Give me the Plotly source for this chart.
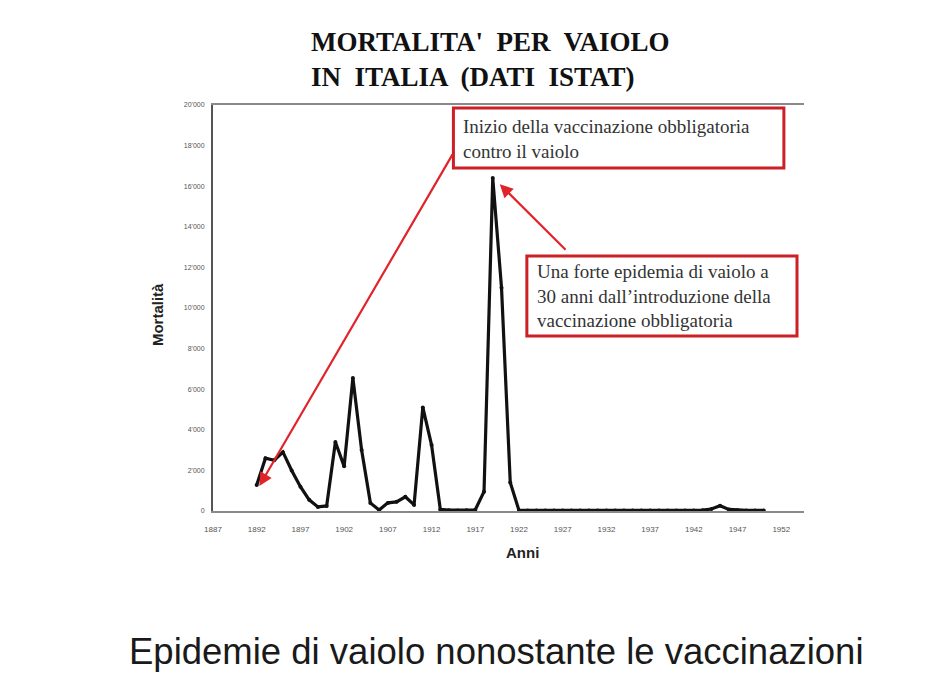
import plotly.graph_objects as go

# ---- data ----
years = list(range(1892, 1951))
deaths = [
    1280, 2600, 2500, 2900, 2000, 1200, 550, 200, 250, 3400,   # 1892-1901
    2200, 6550, 3000, 400, 50, 400, 450, 700, 300, 5100,       # 1902-1911
    3250, 80, 40, 30, 40, 60, 950, 16400, 11000, 1400,         # 1912-1921
    30, 30, 30, 30, 30, 30, 30, 30, 30, 30,                    # 1922-1931
    30, 30, 30, 30, 30, 30, 30, 30, 30, 30,                    # 1932-1941
    30, 40, 100, 260, 80, 40, 30, 30, 30,                      # 1942-1950
]

x_tick_vals = list(range(1887, 1953, 5))
x_tick_text = [str(v) for v in x_tick_vals]
y_tick_vals = list(range(0, 20001, 2000))
y_tick_text = ["0", "2'000", "4'000", "6'000", "8'000", "10'000",
               "12'000", "14'000", "16'000", "18'000", "20'000"]

title_text = "<b>MORTALITA'  PER  VAIOLO<br>IN  ITALIA  (DATI  ISTAT)</b>"
box1_text = "Inizio della vaccinazione obbligatoria<br>contro il vaiolo"
box2_text = ("Una forte epidemia di vaiolo a<br>30 anni dall\u2019introduzione della"
             "<br>vaccinazione obbligatoria")
caption = "Epidemie di vaiolo nonostante le vaccinazioni"

RED = "#cc1f26"
ARROW_RED = "#e0242a"

fig = go.Figure()
fig.add_trace(go.Scatter(
    x=years, y=deaths, mode="lines+markers",
    line=dict(color="#111111", width=3.2),
    marker=dict(color="#111111", size=4),
    hoverinfo="x+y", showlegend=False,
))

fig.update_layout(
    width=926, height=684,
    margin=dict(l=205, r=130, t=97, b=181),
    paper_bgcolor="white", plot_bgcolor="white",
    showlegend=False,
    xaxis=dict(
        range=[1887, 1954.6], tickvals=x_tick_vals, ticktext=x_tick_text,
        showgrid=False, zeroline=False, showline=True, mirror=True,
        linecolor="#8a8a8a", linewidth=1.5,
        tickfont=dict(family="Liberation Sans", size=8, color="#555555"),
        ticks="", ticklabelstandoff=10,
    ),
    yaxis=dict(
        range=[0, 20000], tickvals=y_tick_vals, ticktext=y_tick_text,
        showgrid=False, zeroline=False, showline=True,
        linecolor="#555555", linewidth=2,
        tickfont=dict(family="Liberation Sans", size=7, color="#555555"),
        ticks="", ticklabelstandoff=5,
    ),
)

# boxes
fig.add_shape(type="rect", xref="x", yref="y",
              x0=1914.5, x1=1952.3, y0=16900, y1=19850,
              line=dict(color=RED, width=3), fillcolor="white", layer="above")
fig.add_shape(type="rect", xref="x", yref="y",
              x0=1922.9, x1=1953.8, y0=8620, y1=12560,
              line=dict(color=RED, width=3), fillcolor="white", layer="above")

annotations = [
    dict(text=title_text, xref="paper", yref="paper", x=0.162, y=1.111,
         xanchor="left", yanchor="middle", align="left", showarrow=False,
         font=dict(family="Liberation Serif", size=27, color="#111111")),
    dict(text=box1_text, xref="x", yref="y", x=1915.4, y=18350,
         xanchor="left", yanchor="middle", align="left", showarrow=False,
         font=dict(family="Liberation Serif", size=19, color="#333333")),
    dict(text=box2_text, xref="x", yref="y", x=1923.85, y=10590,
         xanchor="left", yanchor="middle", align="left", showarrow=False,
         font=dict(family="Liberation Serif", size=19, color="#333333")),
    dict(text="", x=years[0] + 0.3, y=deaths[0] - 50, xref="x", yref="y",
         ax=1914.5, ay=17640, axref="x", ayref="y", showarrow=True,
         arrowhead=2, arrowsize=1.2, arrowwidth=2.2, arrowcolor=ARROW_RED, standoff=0),
    dict(text="", x=1919.8, y=16100, xref="x", yref="y",
         ax=1927.5, ay=12800, axref="x", ayref="y", showarrow=True,
         arrowhead=2, arrowsize=1.2, arrowwidth=2.2, arrowcolor=ARROW_RED, standoff=0),
    dict(text="<b>Anni</b>", xref="paper", yref="paper", x=0.523, y=-0.1034,
         xanchor="center", yanchor="middle", showarrow=False,
         font=dict(family="Liberation Sans", size=15, color="#222222")),
    dict(text="<b>Mortalità</b>", xref="paper", yref="paper", x=-0.0948, y=0.485,
         xanchor="center", yanchor="middle", showarrow=False, textangle=-90,
         font=dict(family="Liberation Sans", size=15, color="#222222")),
    dict(text=caption, xref="paper", yref="paper", x=0.4805, y=-0.347,
         xanchor="center", yanchor="middle", showarrow=False,
         font=dict(family="Liberation Sans", size=36.5, color="#1a1a1a")),
]
fig.update_layout(annotations=annotations)

fig.write_html("out.html")
